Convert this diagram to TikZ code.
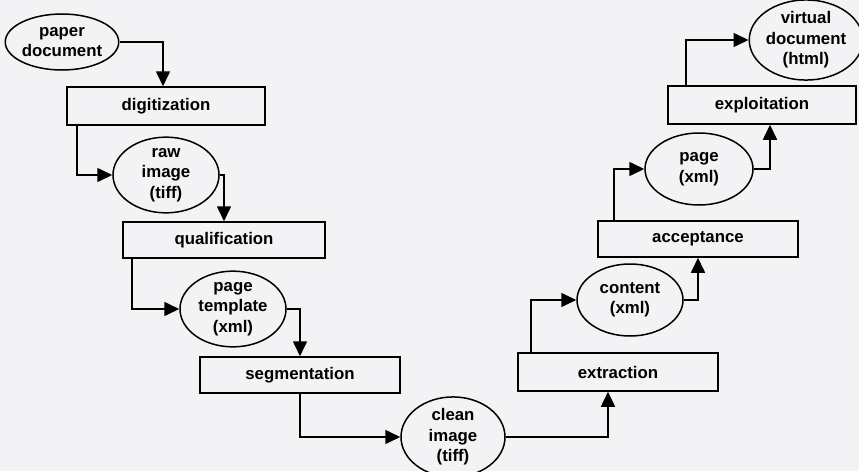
\documentclass[tikz,border=0pt]{standalone}
\usepackage{fontspec}
\setmainfont{Liberation Sans}
\usetikzlibrary{shapes.geometric,arrows.meta}
\definecolor{bg}{RGB}{243,243,245}
\begin{document}
\begin{tikzpicture}[x=1pt,y=-1pt,
  every node/.style={font=\fontsize{16.8}{20.5}\selectfont\bfseries, align=center, inner sep=0pt},
  proc/.style={draw, line width=1.5pt, rectangle},
  data/.style={draw, line width=1.5pt, ellipse},
  arr/.style={line width=1.6pt, -{Triangle[length=15pt,width=14pt]}}]
\fill[bg] (0,0) rectangle (859,471);
\useasboundingbox (0,0) rectangle (859,471);
\node[data, minimum width=108pt, minimum height=56pt] (paper) at (62,42) {paper\\document};
\node[proc, minimum width=198pt, minimum height=38pt] (digit) at (166,106) {digitization};
\node[data, minimum width=106pt, minimum height=62pt] (raw) at (166,175) {raw\\image\\(tiff)};
\node[proc, minimum width=202pt, minimum height=36pt] (qual) at (224,240) {qualification};
\node[data, minimum width=106pt, minimum height=72pt] (tmpl) at (233,309) {page\\template\\(xml)};
\node[proc, minimum width=200pt, minimum height=36pt] (seg) at (300,375) {segmentation};
\node[data, minimum width=104pt, minimum height=68pt] (clean) at (453,437) {clean\\image\\(tiff)};
\node[proc, minimum width=200pt, minimum height=38pt] (extr) at (618,372) {extraction};
\node[data, minimum width=106pt, minimum height=72pt] (content) at (630,300) {content\\(xml)};
\node[proc, minimum width=200pt, minimum height=36pt] (accept) at (698,239) {acceptance};
\node[data, minimum width=108pt, minimum height=72pt] (pagex) at (699,169) {page\\(xml)};
\node[proc, minimum width=188pt, minimum height=38pt] (exploit) at (762,105) {exploitation};
\node[data, minimum width=102pt, minimum height=72pt] (virt) at (806,40) {virtual\\document\\(html)};
\draw[arr] (paper.east) -| ([xshift=-3pt]digit.north);
\draw[arr] ([xshift=11pt]digit.south west) |- (raw.west);
\draw[arr] (raw.east) -| (qual.north);
\draw[arr] ([xshift=10pt]qual.south west) |- (tmpl.west);
\draw[arr] (tmpl.east) -| (seg.north);
\draw[arr] (seg.south) |- (clean.west);
\draw[arr] (clean.east) -| ([xshift=-10pt]extr.south);
\draw[arr] ([xshift=14pt]extr.north west) |- (content.west);
\draw[arr] (content.east) -| (accept.south);
\draw[arr] ([xshift=17pt]accept.north west) |- (pagex.west);
\draw[arr] (pagex.east) -| ([xshift=8pt]exploit.south);
\draw[arr] ([xshift=19pt]exploit.north west) |- (virt.west);
\end{tikzpicture}
\end{document}
